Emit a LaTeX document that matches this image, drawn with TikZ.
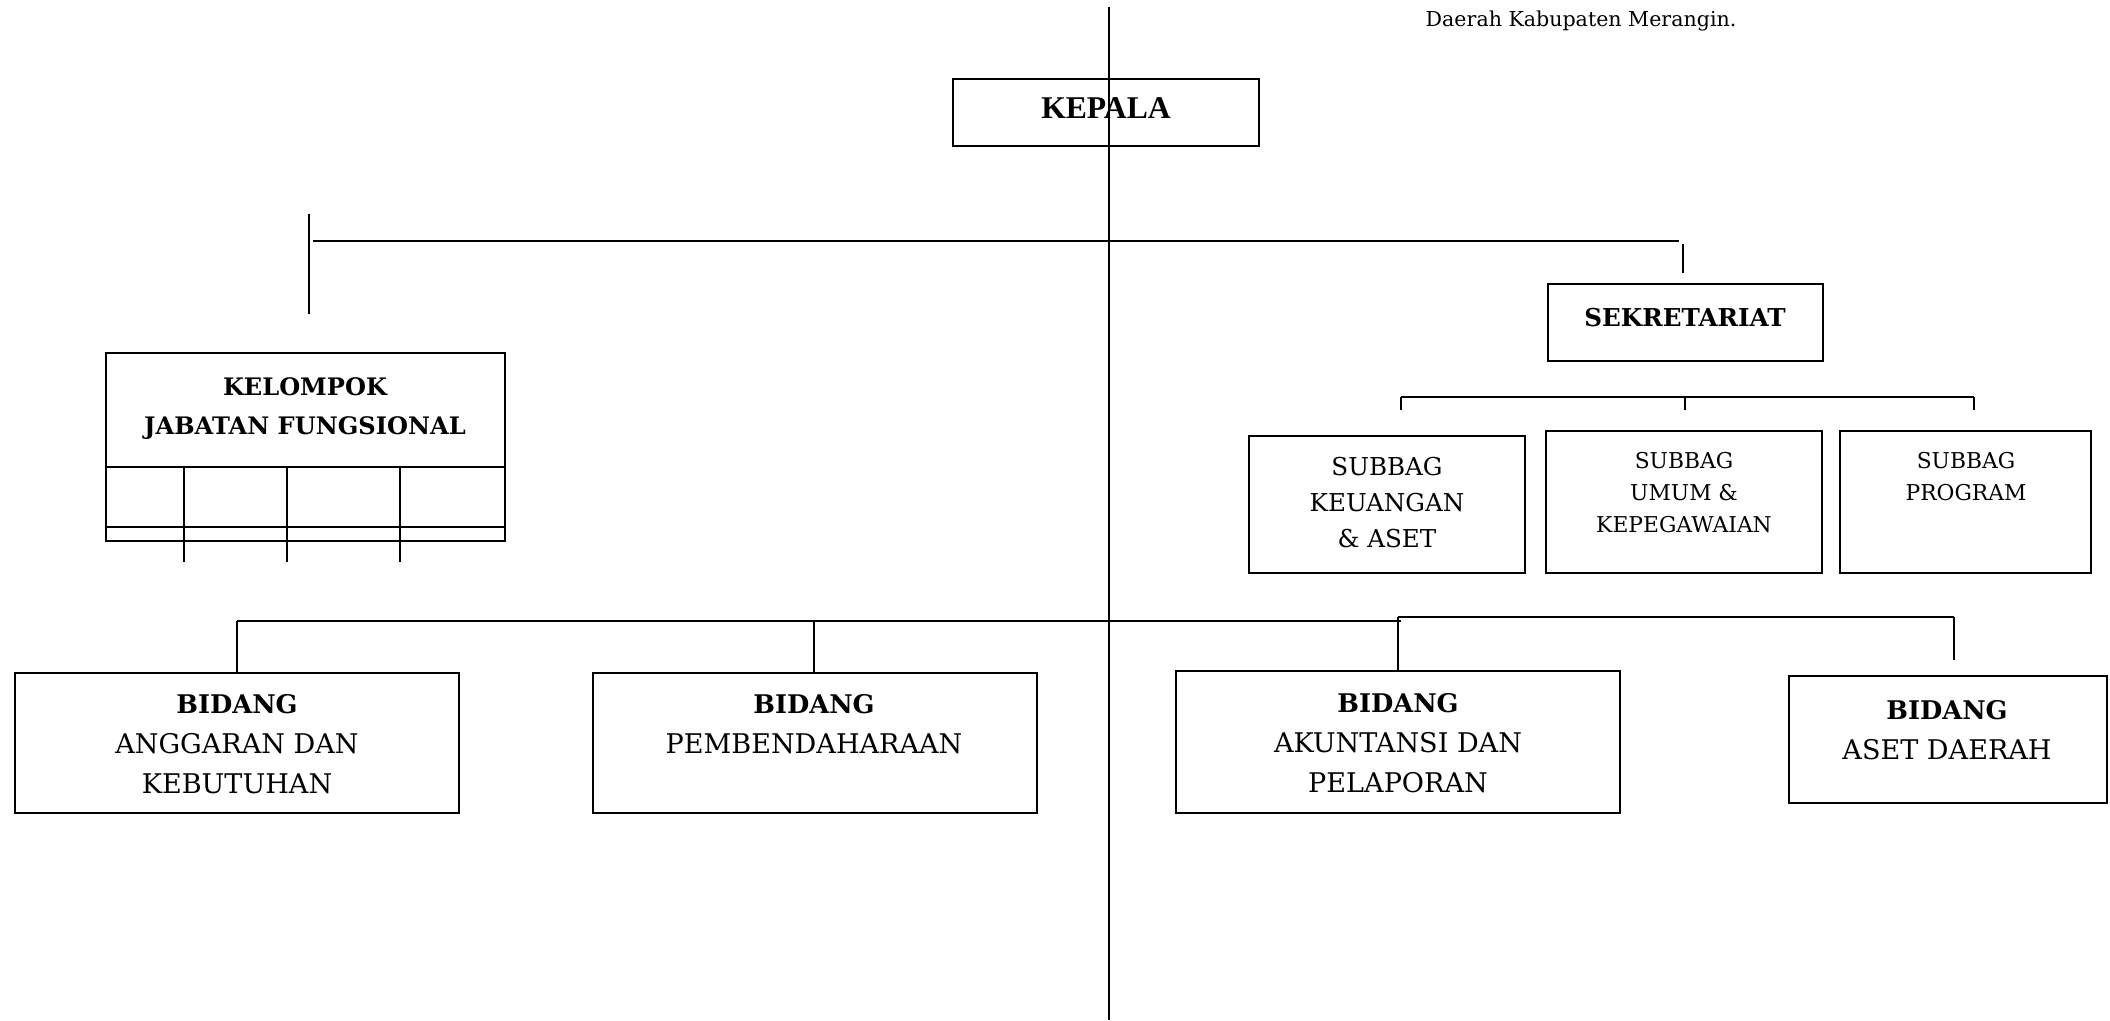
\documentclass[tikz,border=0pt]{standalone}
\usepackage{fontspec}
\setmainfont{DejaVu Serif}
\newfontfamily\timesfont{Liberation Serif}
\usepackage{tikz}
\usetikzlibrary{positioning}

\newcommand{\headfont}{\timesfont\fontsize{9}{11}\bfseries\selectfont}
\newcommand{\bigfont}{\fontsize{7.7}{11.4}\selectfont}
\newcommand{\bidbf}[1]{{\fontsize{7.3}{11.4}\bfseries\selectfont #1}}
\newcommand{\midfont}{\fontsize{7}{10.2}\selectfont}
\newcommand{\smallfont}{\fontsize{6.2}{9}\selectfont}

\tikzset{
  unit/.style={draw, line width=0.7pt, inner sep=0pt},
  txt/.style={anchor=north, align=center, inner sep=0pt},
  wire/.style={line width=0.6pt},
}

\begin{document}
\begin{tikzpicture}[x=0.01cm, y=-0.01cm]
  \useasboundingbox (0,0) rectangle (2110,1020);

  \node (note) [anchor=base west, inner sep=0pt, font=\fontsize{5.85}{8}\selectfont] at (1425,26) {Daerah Kabupaten Merangin.};

  % kepala dan sekretariat
  \node (kepala) [unit, minimum width=3.06cm, minimum height=0.67cm] at (1106,112.5) {};
  \node (kepalatxt) [txt, font=\headfont] at (1106,97) {KEPALA};

  \node (sekretariat) [unit, minimum width=2.75cm, minimum height=0.77cm] at (1685.5,322.5) {};
  \node (sekretariattxt) [txt, font=\midfont\bfseries] at (1685,308) {SEKRETARIAT};

  \node (keuangan) [unit, minimum width=2.76cm, minimum height=1.37cm] at (1387,504.5) {};
  \node (keuangantxt) [txt, font=\midfont] at (1387,457) {SUBBAG\\KEUANGAN\\\& ASET};

  \node (umum) [unit, minimum width=2.76cm, minimum height=1.42cm] at (1684,502) {};
  \node (umumtxt) [txt, font=\smallfont] at (1684,452) {SUBBAG\\UMUM \&\\KEPEGAWAIAN};

  \node (program) [unit, minimum width=2.51cm, minimum height=1.42cm] at (1965.5,502) {};
  \node (programtxt) [txt, font=\smallfont] at (1966,452) {SUBBAG\\PROGRAM};

  % kelompok jabatan fungsional
  \node (kelompok) [unit, minimum width=3.99cm, minimum height=1.88cm] at (305.5,447) {};
  \node (kelompoktxt) [txt, font=\fontsize{6.85}{11}\bfseries\selectfont] at (305,377) {KELOMPOK\\JABATAN FUNGSIONAL};

  % bidang
  \node (anggaran) [unit, minimum width=4.44cm, minimum height=1.40cm] at (237,743) {};
  \node (anggarantxt) [txt, font=\bigfont] at (237,694) {\bidbf{BIDANG}\\ANGGARAN DAN\\KEBUTUHAN};

  \node (bendahara) [unit, minimum width=4.44cm, minimum height=1.40cm] at (815,743) {};
  \node (bendaharatxt) [txt, font=\bigfont] at (814,694) {\bidbf{BIDANG}\\PEMBENDAHARAAN};

  \node (akuntansi) [unit, minimum width=4.44cm, minimum height=1.42cm] at (1398,742) {};
  \node (akuntansitxt) [txt, font=\bigfont] at (1398,693) {\bidbf{BIDANG}\\AKUNTANSI DAN\\PELAPORAN};

  \node (aset) [unit, minimum width=3.18cm, minimum height=1.27cm] at (1948,739.5) {};
  \node (asettxt) [txt, font=\bigfont] at (1947,700) {\bidbf{BIDANG}\\ASET DAERAH};

  % garis
  \coordinate (axtop) at (1109,7);
  \coordinate (axbot) at (1109,1020);
  \draw [wire] (axtop) -- (axbot);

  \coordinate (busL) at (313,241);
  \coordinate (busR) at (1679,241);
  \draw [wire] (busL) -- (busR);
  \draw [wire] (309,214) coordinate (jfA) -- (309,314) coordinate (jfB);
  \draw [wire] (1683,244) coordinate (skA) -- (1683,273) coordinate (skB);

  \coordinate (subL) at (1401,397);
  \coordinate (subR) at (1974,397);
  \draw [wire] (subL) -- (subR);
  \foreach \x in {1401,1685,1974}
    \draw [wire] (\x,397) -- (\x,410);

  \draw [wire] (kelompok.west |- 0,467) -- (kelompok.east |- 0,467);
  \draw [wire] (kelompok.west |- 0,527) -- (kelompok.east |- 0,527);
  \foreach \x in {184,287,400}
    \draw [wire] (\x,467) -- (\x,562);

  \coordinate (bidL) at (237,621);
  \coordinate (bidR) at (1401,621);
  \draw [wire] (bidL) -- (bidR);
  \draw [wire] (bidL) -- (anggaran.north);
  \draw [wire] (814,621) -- (bendahara.north -| 814,0);

  \coordinate (bid2L) at (1398,617);
  \coordinate (bid2R) at (1954,617);
  \draw [wire] (bid2L) -- (bid2R);
  \draw [wire] (bid2L) -- (akuntansi.north);
  \draw [wire] (bid2R) -- (1954,660);
\end{tikzpicture}
\end{document}
